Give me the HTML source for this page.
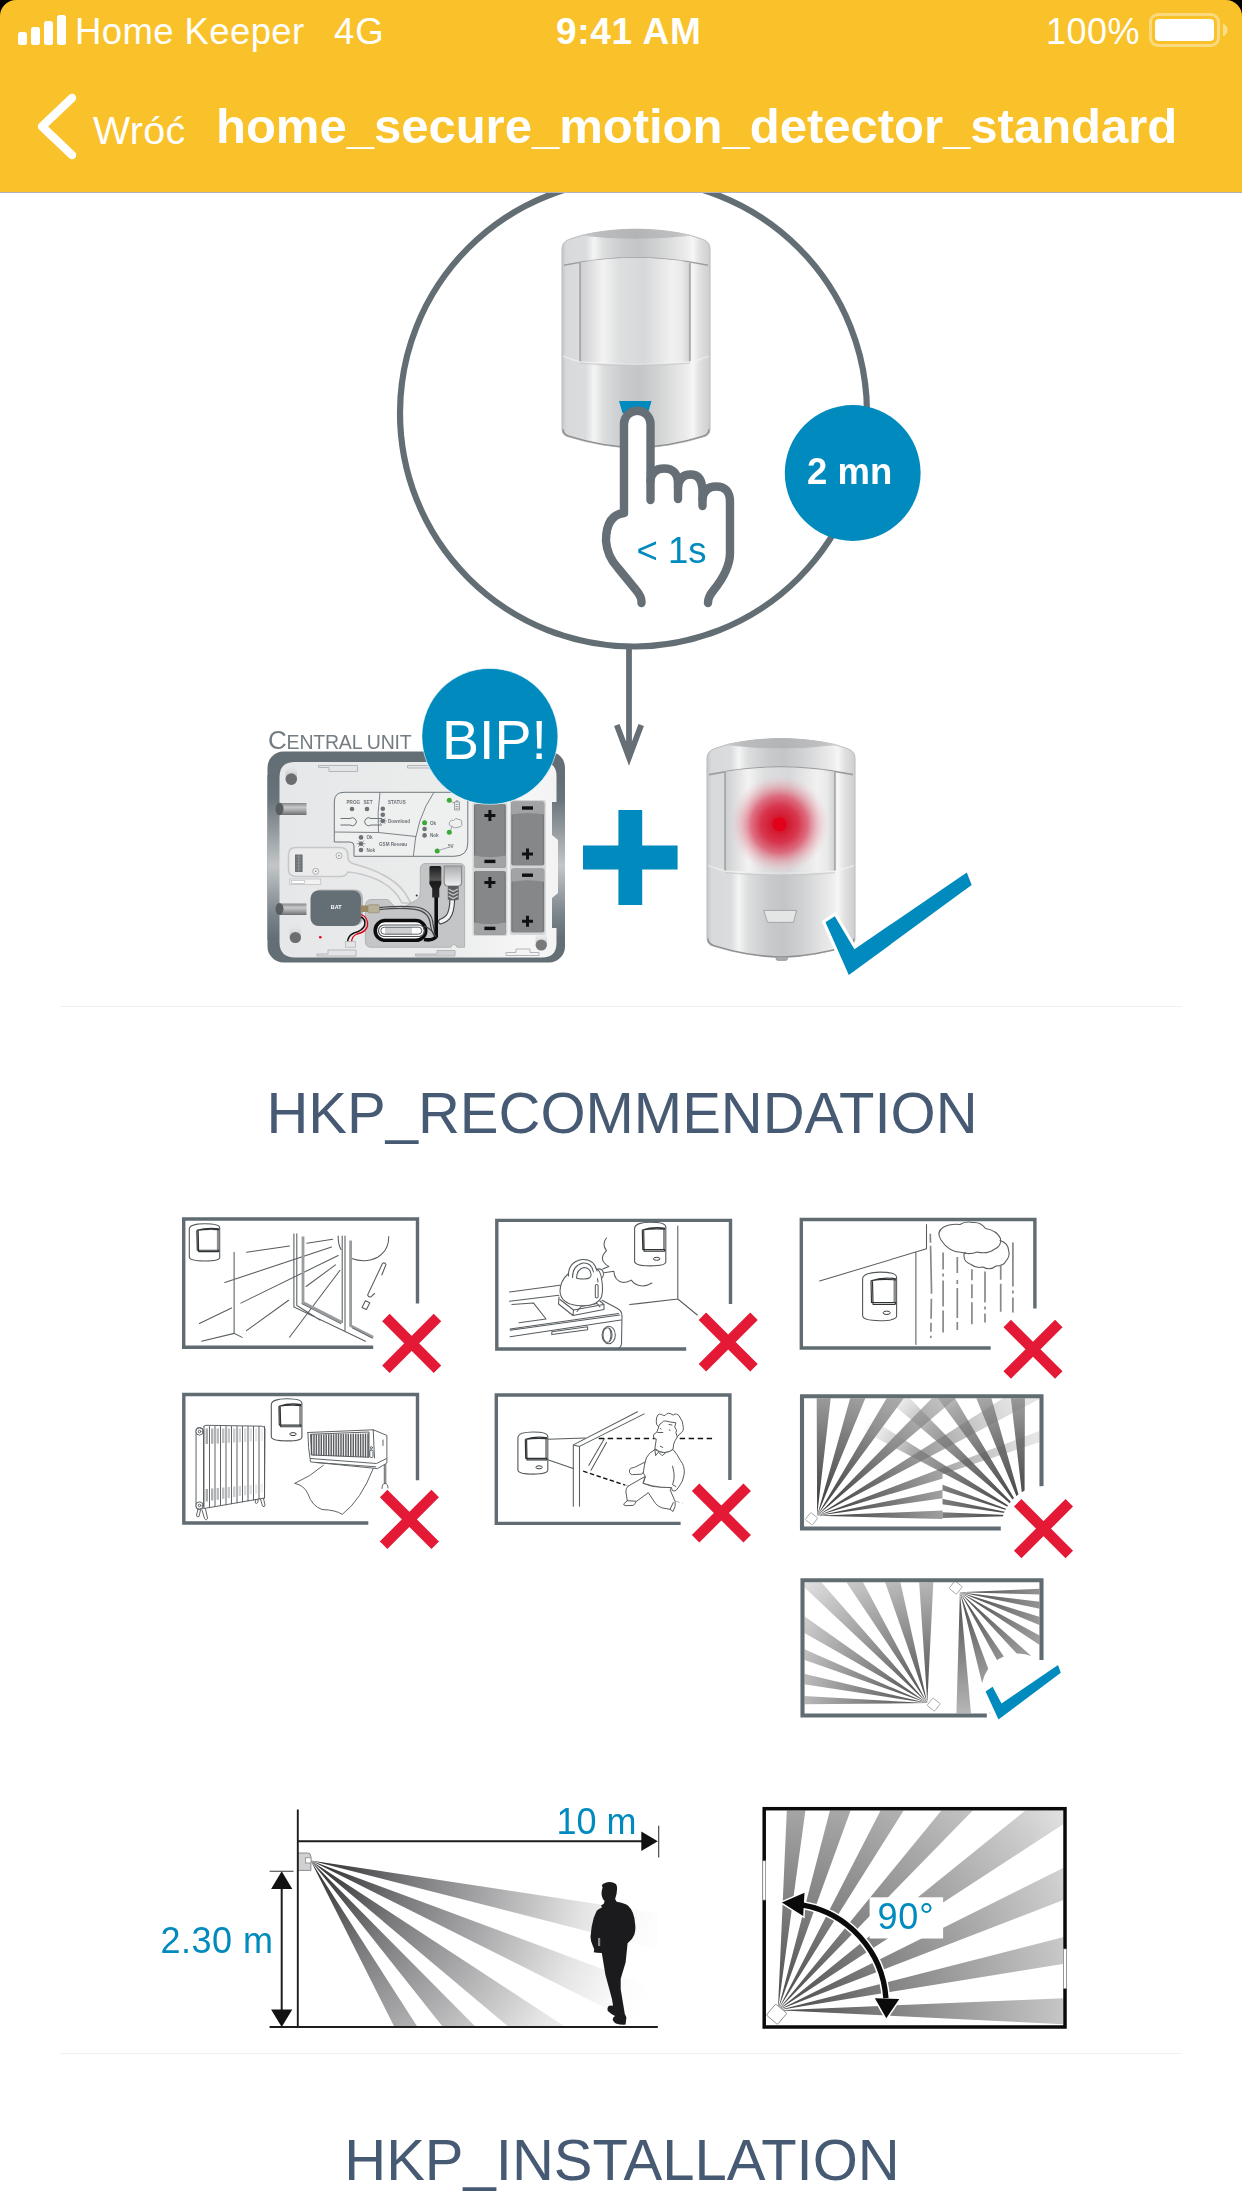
<!DOCTYPE html>
<html>
<head>
<meta charset="utf-8">
<title>home_secure_motion_detector_standard</title>
<style>
*{margin:0;padding:0;box-sizing:border-box}
html,body{width:1242px;height:2208px;overflow:hidden;background:#fff}
body{position:relative;font-family:"Liberation Sans",sans-serif;color:#fff}
.abs{position:absolute;white-space:nowrap}
#hdr{position:absolute;left:0;top:0;width:1242px;height:193px;background:#f9c22b;border-bottom:1px solid #b0b1bb}
.corner{position:absolute;top:0;width:16px;height:16px;background:#000}
.corner i{position:absolute;top:0;width:32px;height:32px;border-radius:16px;background:#f9c22b}
.bar{position:absolute;width:9px;background:#fff;border-radius:2.5px}
.st{font-size:36.500px;line-height:40px;top:11.500px;letter-spacing:0}
.h2{position:absolute;left:1px;width:1242px;text-align:center;font-size:58px;line-height:70px;color:#475a74}
.hr{position:absolute;left:60px;width:1122px;height:1px;background:#f0f0f0}
#art{position:absolute;left:0;top:0;width:1242px;height:2208px;will-change:transform}
</style>
</head>
<body>
<!-- ART -->
<svg id="art" viewBox="0 0 1242 2208">
<defs>
<linearGradient id="gBody" gradientUnits="userSpaceOnUse" x1="0" y1="0" x2="148" y2="0">
<stop offset="0" stop-color="#c6c7c9"/><stop offset=".03" stop-color="#d8d9da"/><stop offset=".16" stop-color="#dbdcdd"/>
<stop offset=".215" stop-color="#f4f4f4"/><stop offset=".28" stop-color="#dcddde"/><stop offset=".42" stop-color="#c9cacc"/><stop offset=".52" stop-color="#c4c5c7"/>
<stop offset=".64" stop-color="#d0d1d2"/><stop offset=".84" stop-color="#ececec"/><stop offset=".885" stop-color="#f6f6f6"/>
<stop offset=".93" stop-color="#e1e1e2"/><stop offset="1" stop-color="#cdcecf"/>
</linearGradient>
<linearGradient id="gWin" gradientUnits="userSpaceOnUse" x1="18" y1="0" x2="128" y2="0">
<stop offset="0" stop-color="#cdcecf"/><stop offset=".10" stop-color="#dfdfe0"/><stop offset=".21" stop-color="#f3f3f3"/>
<stop offset=".36" stop-color="#dddedf"/><stop offset=".58" stop-color="#d7d8d9"/><stop offset=".84" stop-color="#f1f1f1"/>
<stop offset=".93" stop-color="#e9e9e9"/><stop offset="1" stop-color="#cfd0d0"/>
</linearGradient>
<linearGradient id="gTop" gradientUnits="userSpaceOnUse" x1="0" y1="0" x2="148" y2="0">
<stop offset="0" stop-color="#d9dadb"/><stop offset=".25" stop-color="#bbbcbe"/><stop offset=".5" stop-color="#b3b4b6"/><stop offset=".75" stop-color="#bdbec0"/><stop offset="1" stop-color="#dcdcdd"/>
</linearGradient>
<radialGradient id="gRed" cx="0.5" cy="0.5" r="0.5">
<stop offset="0" stop-color="#e2001a"/><stop offset=".135" stop-color="#e2001a"/><stop offset=".15" stop-color="#d3182f"/><stop offset=".38" stop-color="#d72f48" stop-opacity=".96"/><stop offset=".58" stop-color="#db4c63" stop-opacity=".78"/><stop offset=".78" stop-color="#e38a98" stop-opacity=".45"/><stop offset="1" stop-color="#f0c0c8" stop-opacity="0"/>
</radialGradient>
<g id="det">
<path d="M0 24 V19.500 Q0 14 5 11.200 C20 4.500 48 0 74 0 C100 0 128 4.500 143 11.200 Q148 14 148 19.500 L148 200 Q148 206 142 207.500 Q108 218 74 219 Q40 218 6 207.500 Q0 206 0 200 Z" fill="url(#gBody)" stroke="#b9babc" stroke-width="1"/>
<path d="M17 6.300 C34 2 56 0 74 0 C92 0 114 2 131 6.300 Q74 13 17 6.300Z" fill="url(#gTop)"/>
<path d="M2 36 Q74 21 146 36" fill="none" stroke="#9c9d9f" stroke-width="1.600"/>
<path d="M18 33.200 Q74 24 128 33.200 L128 132.500 Q74 136.500 18 132.500 Z" fill="url(#gWin)"/>
<path d="M18 33.500 L18 132.500 M128 33.500 L128 132.500" stroke="#8f9092" stroke-width="1.200" fill="none"/>
<path d="M1 127 Q12 131 18 132.500 Q74 137.500 128 132.500 Q136 131 147 127" fill="none" stroke="#f6f6f6" stroke-opacity=".55" stroke-width="1.600"/>
<path d="M18 134 Q74 139 128 134" fill="none" stroke="#c6c7c9" stroke-opacity=".7" stroke-width="1.200"/>
<path d="M1 200 Q1 205 7 207 Q40 217.500 74 218.500 Q108 217.500 141 207 Q147 205 147 200" fill="none" stroke="#8e8f91" stroke-width="1.400"/>
</g>
<linearGradient id="gFrameV" x1="0" y1="0" x2="0" y2="1">
<stop offset="0" stop-color="#636e74"/><stop offset=".15" stop-color="#6a757b"/><stop offset=".55" stop-color="#c3c6c8"/><stop offset=".85" stop-color="#79838a"/><stop offset="1" stop-color="#636e74"/>
</linearGradient>
<linearGradient id="gPeg" x1="0" y1="0" x2="0" y2="1">
<stop offset="0" stop-color="#85888a"/><stop offset=".35" stop-color="#c6c8c9"/><stop offset=".6" stop-color="#a9abad"/><stop offset="1" stop-color="#6c6f72"/>
</linearGradient>
<linearGradient id="gCell" x1="0" y1="0" x2="1" y2="0">
<stop offset="0" stop-color="#6c6e71"/><stop offset=".06" stop-color="#868789"/><stop offset=".94" stop-color="#868789"/><stop offset="1" stop-color="#6c6e71"/>
</linearGradient>
<linearGradient id="gRJ" x1="0" y1="0" x2="0" y2="1">
<stop offset="0" stop-color="#a9abad"/><stop offset="1" stop-color="#f1f1f1"/>
</linearGradient>
<linearGradient id="gPlug" x1="0" y1="0" x2="0" y2="1">
<stop offset="0" stop-color="#1c1c1c"/><stop offset=".45" stop-color="#565656"/><stop offset=".5" stop-color="#1a1a1a"/><stop offset="1" stop-color="#2a2a2a"/>
</linearGradient>
<linearGradient id="gHole" x1="0" y1="0" x2="0" y2="1">
<stop offset="0" stop-color="#d8d9da" stop-opacity="0"/><stop offset="1" stop-color="#7a7c7e"/>
</linearGradient>
<linearGradient id="gPanel" gradientUnits="userSpaceOnUse" x1="279" y1="0" x2="556" y2="0">
<stop offset="0" stop-color="#e6e7e8"/><stop offset=".6" stop-color="#ebecec"/><stop offset=".9" stop-color="#f6f6f6"/><stop offset="1" stop-color="#f3f3f3"/>
</linearGradient>
<!--DEFS3-->
<radialGradient id="g6a" gradientUnits="userSpaceOnUse" cx="817.1" cy="1515.8" r="230"><stop offset="0" stop-color="#333333" stop-opacity="0.97"/><stop offset="0.12" stop-color="#454545" stop-opacity="0.95"/><stop offset="0.35" stop-color="#626262" stop-opacity="0.85"/><stop offset="0.6" stop-color="#808080" stop-opacity="0.68"/><stop offset="1" stop-color="#a8a8a8" stop-opacity="0.3"/></radialGradient>
<radialGradient id="g6b" gradientUnits="userSpaceOnUse" cx="1024.5" cy="1515.8" r="230"><stop offset="0" stop-color="#333333" stop-opacity="0.97"/><stop offset="0.12" stop-color="#454545" stop-opacity="0.95"/><stop offset="0.35" stop-color="#626262" stop-opacity="0.85"/><stop offset="0.56" stop-color="#7e7e7e" stop-opacity="0.66"/><stop offset="0.66" stop-color="#909090" stop-opacity="0.4"/><stop offset="0.8" stop-color="#a0a0a0" stop-opacity="0"/><stop offset="1" stop-color="#a8a8a8" stop-opacity="0"/></radialGradient>
<clipPath id="c6"><rect x="804" y="1398.300" width="235.500" height="128.200"/></clipPath>
<clipPath id="c6l"><rect x="804" y="1398.300" width="138.500" height="128.200"/></clipPath>
<clipPath id="c6r"><rect x="942.500" y="1398.300" width="97" height="128.200"/></clipPath>
<radialGradient id="g7a" gradientUnits="userSpaceOnUse" cx="927.3" cy="1703.1" r="185"><stop offset="0" stop-color="#4b4b4b" stop-opacity="1"/><stop offset="0.12" stop-color="#5e5e5e" stop-opacity="1"/><stop offset="0.35" stop-color="#868686" stop-opacity="1"/><stop offset="0.65" stop-color="#b6b6b6" stop-opacity="1"/><stop offset="1" stop-color="#ececec" stop-opacity="1"/></radialGradient>
<radialGradient id="g7b" gradientUnits="userSpaceOnUse" cx="959.9" cy="1592.2" r="185"><stop offset="0" stop-color="#4b4b4b" stop-opacity="1"/><stop offset="0.12" stop-color="#5e5e5e" stop-opacity="1"/><stop offset="0.35" stop-color="#868686" stop-opacity="1"/><stop offset="0.65" stop-color="#b6b6b6" stop-opacity="1"/><stop offset="1" stop-color="#ececec" stop-opacity="1"/></radialGradient>
<clipPath id="c7"><rect x="804.500" y="1582.300" width="235" height="131.200"/></clipPath>
<radialGradient id="g3a" gradientUnits="userSpaceOnUse" cx="310.6" cy="1860.4" r="365"><stop offset="0" stop-color="#303032" stop-opacity="1"/><stop offset="0.1" stop-color="#47474a" stop-opacity="1"/><stop offset="0.28" stop-color="#7b7b7e" stop-opacity="1"/><stop offset="0.5" stop-color="#a9a9ab" stop-opacity="1"/><stop offset="0.76" stop-color="#e4e4e4" stop-opacity="1"/><stop offset="0.92" stop-color="#fbfbfb" stop-opacity="1"/><stop offset="1" stop-color="#ffffff" stop-opacity="1"/></radialGradient>
<clipPath id="c3a"><rect x="299" y="1812" width="359" height="214"/></clipPath>
<radialGradient id="g3b" gradientUnits="userSpaceOnUse" cx="777.9" cy="2010.2" r="380"><stop offset="0" stop-color="#484848" stop-opacity="1"/><stop offset="0.1" stop-color="#5c5c5c" stop-opacity="1"/><stop offset="0.3" stop-color="#838383" stop-opacity="1"/><stop offset="0.55" stop-color="#a8a8a8" stop-opacity="1"/><stop offset="0.8" stop-color="#cdcdcd" stop-opacity="1"/><stop offset="1" stop-color="#f0f0f0" stop-opacity="1"/></radialGradient>
<clipPath id="c3b"><rect x="766" y="1810.500" width="297.200" height="214.700"/></clipPath>
<!--/DEFS3-->
</defs>
<!--SEC1-->
<g id="sec1">
<circle cx="633.500" cy="413" r="233.500" fill="#fff" stroke="#636e74" stroke-width="6.200"/>
<use href="#det" x="562" y="229.200"/>
<path d="M619 401 L651.500 401 L648 413 L622.500 413 Z" fill="#008abd"/>
<!-- hand -->
<path d="M650.500 500 L650.500 424 A13.250 13.250 0 0 0 624 424 L624 515 Q606 516 606 541 Q607 556 618 568 L636 590 Q642 597 641.500 603 L708 603 Q708 597 713 591 Q730 570 730 553 L730 498 Q730 486 716 486 Q703 486 703 499 L703 493 Q703 474 690 474 Q678 474 678 487 L678 483 Q678 468 664 468 Q650.500 468 650.500 483 Z" fill="#fff"/>
<g fill="none" stroke="#656f75" stroke-width="8.400" stroke-linecap="round" stroke-linejoin="round">
<path d="M650.500 500 L650.500 424 A13.250 13.250 0 0 0 624 424 L624 513 Q606 515 606 541 Q607 556 618 568 L636 590 Q642 597 641.500 603"/>
<path d="M650.500 481 Q651.500 468.500 664 468.500 Q678 468.500 678 484 L678 499"/>
<path d="M678 487 Q679.500 474.500 690.500 474.500 Q702.500 474.500 702.500 492 L702.500 506"/>
<path d="M702.500 499 Q704 486.500 716 486.500 Q730 486.500 730 502 L730 553 Q730 570 713 591 Q708 597 708 603"/>
</g>
<text x="636.500" y="562.800" font-family="Liberation Sans, sans-serif" font-size="36.500" fill="#008abd">&lt; 1s</text>
<!-- 2mn -->
<circle cx="852.700" cy="473" r="67.900" fill="#008abd"/>
<text x="849.700" y="484.200" text-anchor="middle" font-family="Liberation Sans, sans-serif" font-weight="bold" font-size="36.500" fill="#fff">2 mn</text>
<!-- arrow -->
<path d="M629 648 L629 756 M616.800 725 L629 757.500 L641.200 725" fill="none" stroke="#656f75" stroke-width="5.800" stroke-linejoin="miter"/>

<!-- central unit -->
<g id="cu">
<text id="cutxt" x="268" y="748.500" font-family="Liberation Sans, sans-serif" fill="#737d83" font-size="26" letter-spacing="-0.2">C<tspan font-size="19.500">ENTRAL UNIT</tspan></text>
<rect x="267.500" y="751.500" width="297.500" height="211" rx="16" fill="#646f75"/>
<rect x="267.500" y="775" width="12.500" height="165" fill="url(#gFrameV)"/>
<rect x="552" y="775" width="13" height="165" fill="url(#gFrameV)"/>
<path d="M295 762 L542 762 Q556.500 762 556.500 776 L556.500 802 L552 802 L552 835 L558 840 L558 893 L552 898 L552 928 L556.500 928 L556.500 943 Q556.500 957.500 542 957.500 L295 957.500 Q279.500 957.500 279.500 942 L279.500 777 Q279.500 762 295 762 Z" fill="url(#gPanel)"/>
<!-- tabs -->
<g fill="#e4e5e6" stroke="#b4b6b8" stroke-width="1">
<path d="M318.500 765.500 H357.500 V771.500 H329 V767.500 H318.500Z"/>
<path d="M407.500 765.500 H446 V768 H407.500Z"/>
<path d="M317 956 V954 H328 V950 H356 V956Z"/>
<path d="M415.500 956 V954 H437 V950.500 H455 V956Z" fill="#d0d1d2"/>
<path d="M506 955.500 V952.500 H516 V949 H530 V952.500 H539 V955.500Z" fill="#f4f4f4"/>
</g>
<!-- pegs -->
<rect x="280" y="803" width="26.500" height="12" fill="url(#gPeg)"/><ellipse cx="279.500" cy="809" rx="4" ry="6.200" fill="#5a5d60"/>
<rect x="280" y="903.500" width="26.500" height="11.500" fill="url(#gPeg)"/><ellipse cx="279.500" cy="909" rx="4" ry="6" fill="#5a5d60"/>
<!-- holes -->
<rect x="285.500" y="766" width="11.500" height="19" rx="5.700" fill="url(#gHole)"/><circle cx="291.300" cy="779" r="5.700" fill="#6b6d70"/>
<rect x="289.500" y="924" width="11.500" height="19" rx="5.700" fill="url(#gHole)" opacity=".6"/><circle cx="295.400" cy="937.500" r="5.600" fill="#6b6d70"/>
<rect x="535.500" y="931" width="11.500" height="19" rx="5.700" fill="url(#gHole)" opacity=".7"/><circle cx="541.300" cy="945" r="5.600" fill="#77797b"/>
<circle cx="320.300" cy="937.200" r="1.300" fill="#e2001a"/>
<!-- led panel -->
<path d="M344 792.300 H467.800 V843 Q467.800 856.300 454 856.300 H354 V846 Q354 842 350 842 H334.300 V802 Q334.300 792.300 344 792.300Z" fill="#eeefef" stroke="#6e787d" stroke-width="1"/>
<path d="M380 792.300 Q377 812 378.500 832.500 M334.300 832 L378.500 832.500 L416 836.500 M434 792.300 Q416 818 413.300 856.300" fill="none" stroke="#6e787d" stroke-width=".9"/>
<g fill="#6d7376">
<circle cx="352" cy="809" r="2.300"/><circle cx="367" cy="809" r="2.300"/>
<circle cx="382.800" cy="808.800" r="2.300"/><circle cx="382.800" cy="814.800" r="2.300"/><circle cx="382.800" cy="821" r="2.300"/>
<circle cx="361" cy="837.400" r="2.300"/><circle cx="361" cy="843.700" r="2.300"/><circle cx="361" cy="850" r="2.300"/>
<circle cx="424.600" cy="829" r="2.300"/><circle cx="424.600" cy="835.400" r="2.300"/>
</g>
<g stroke="#6d7376" stroke-width=".6"><path d="M378.500 821 H387 M380 818 L385.500 824 M380 824 L385.500 818 M356.500 843.700 H365.500 M358 840.500 L364 847 M358 847 L364 840.500"/></g>
<g fill="#3aaa35"><circle cx="449.300" cy="800.300" r="2.500"/><circle cx="424.600" cy="822.800" r="2.500"/><circle cx="449.300" cy="832.300" r="2.500"/><circle cx="437.200" cy="851" r="2.500"/></g>
<g fill="none" stroke="#6d7376" stroke-width="1"><path d="M340.500 818.500 H350 A4 4 0 1 1 350 825 H340.500"/><path d="M382 818.500 H371 A4 4 0 1 0 371 825 H382"/></g>
<g font-family="Liberation Sans, sans-serif" font-weight="bold" font-size="4.600" fill="#6b7377">
<text x="346.500" y="803.500">PROG</text><text x="363.500" y="803.500">SET</text><text x="388" y="803.500">STATUS</text>
<text x="388" y="823">Download</text><text x="366.500" y="839.300">Ok</text><text x="366.500" y="852">Nok</text><text x="379" y="845.700">GSM Reseau</text>
<text x="430" y="824.700">Ok</text><text x="430" y="837.300">Nok</text><text x="448" y="848">5V</text>
</g>
<g fill="none" stroke="#8b9195" stroke-width=".8"><path d="M451 801.500 L454.500 803 M454.500 802 H459.500 V810 H454.500Z M456 802 V800.800 H458 V802 M455.500 804.500 H458.500 M455.500 806.500 H458.500 M455.500 808.300 H458.500"/>
<path d="M450.500 830.500 L452 826.500 Q447.500 825 450 821.500 Q451.500 819.500 453.500 820.500 Q455.500 817 459 819.500 Q462.500 819.500 461.500 823 Q463 826.500 459 827 Q455 829 452 826.500"/><path d="M439.500 850.200 L448 847.500"/></g>
<!-- board recess -->
<path d="M296 847.500 H340 Q348 847.500 348 855.500 V858 Q348 862 354 864 Q392 874 405 893 L411 903 L402 903 Q395 888 378 880 Q362 873 348 872 Q346 876.500 340 876.500 H296 Q288.500 876.500 288.500 869 V855 Q288.500 847.500 296 847.500Z" fill="#ebebec" stroke="#c6c8c9" stroke-width="1.600"/>
<rect x="295" y="854.500" width="7.600" height="17.500" fill="#6d7376"/><path d="M296.500 857 H301 M296.500 860 H301 M296.500 863 H301 M296.500 866 H301 M296.500 869 H301 M298.800 855 V871.500" stroke="#a0a4a6" stroke-width=".6"/>
<g fill="#f4f4f4" stroke="#8b9195" stroke-width=".7"><circle cx="339" cy="855.700" r="3"/><circle cx="315.700" cy="871.300" r="3"/></g><circle cx="339" cy="855.700" r=".8" fill="#6d7376"/><circle cx="315.700" cy="871.300" r=".8" fill="#6d7376"/>
<rect x="289.700" y="879" width="31" height="5.500" fill="#f2f2f2" stroke="#c0c2c4" stroke-width=".8"/><rect x="291.500" y="880.300" width="13" height="3" fill="#fff" stroke="#b0b2b4" stroke-width=".6"/>
<!-- cavity -->
<path d="M426 863.500 H459.500 Q464.600 863.500 464.600 868.500 V947.200 H457 Q456 944.500 453.500 944.500 Q451.500 944.500 451 947.200 H371 Q365.400 947.200 365.400 941.500 V906 Q365.400 899.500 372 899.500 H388 L396 908 Q398 910 401 908.500 L414 901.500 Q420.300 899 420.300 892 V869 Q420.300 863.500 426 863.500Z" fill="#c4c5c7" stroke="#b0b2b4" stroke-width="1"/>
<circle cx="416.700" cy="895.500" r="1" fill="#333"/>
<!-- BAT -->
<rect x="312.500" y="889.500" width="50.500" height="36" rx="8" fill="#b4b7b9"/>
<rect x="310.500" y="890.500" width="50.500" height="35.500" rx="8" fill="#646f75"/>
<text x="336.200" y="909" text-anchor="middle" font-family="Liberation Sans, sans-serif" font-weight="bold" font-size="5.400" fill="#fff">BAT</text>
<rect x="360.500" y="905.500" width="8" height="6.500" fill="#9c8a64"/><rect x="368" y="904.800" width="11.500" height="8" rx="1.500" fill="#b9b09a" stroke="#8d8468" stroke-width=".6"/>
<!-- wires -->
<path d="M361 914.500 Q368.500 917 367.500 926 Q366 932 357 934 Q351.500 936 351.500 943" fill="none" stroke="#e2001a" stroke-width="1.300"/>
<path d="M361 917 Q366 919 364.500 925.500 Q363 930.500 354 933 Q347.500 935.500 347.500 943" fill="none" stroke="#111" stroke-width="1.500"/>
<rect x="345.600" y="941.500" width="10" height="5.700" fill="#e3e4e5" stroke="#b0b2b4" stroke-width=".7"/>
<!-- coil -->
<rect x="375.200" y="920.500" width="50.500" height="19.800" rx="9.900" fill="#fff" stroke="#0d0d0d" stroke-width="3.600"/>
<rect x="385" y="927" width="27" height="7.500" fill="#cfd0d1"/>
<rect x="378.500" y="925" width="46" height="11.500" rx="5.700" fill="none" stroke="#4c5256" stroke-width="1.200"/>
<rect x="380.800" y="927.200" width="41" height="7" rx="3.500" fill="none" stroke="#4c5256" stroke-width=".9"/>
<path d="M379.500 907.500 Q400 905.500 416 907 Q432 909.500 433 924 Q433.500 931 437 937" fill="none" stroke="#41474a" stroke-width="1.200"/>
<path d="M379.500 909.500 Q400 907.500 415 909.300 Q429.500 911.500 430.500 925 Q431.500 933 436 938" fill="none" stroke="#41474a" stroke-width="1.200"/>
<path d="M436.200 897 V936.500 Q433 941 424 939.500" fill="none" stroke="#0d0d0d" stroke-width="3.600"/>
<path d="M424 926 Q432 929 436 937" fill="none" stroke="#41474a" stroke-width="1.200"/>
<!-- plugs -->
<path d="M429.400 867.500 Q429.400 866 431 866 H439.700 Q441.300 866 441.300 867.500 V884 L439.300 888.500 V897.500 H432.200 V888.500 L429.400 884Z" fill="url(#gPlug)"/>
<path d="M452.300 899 Q452 912 448 917 Q445 920.500 441 921.500" fill="none" stroke="#3d4245" stroke-width="5.800" stroke-linecap="round"/>
<path d="M452.300 899 Q452 912 448 917 Q445 920.500 441 921.500" fill="none" stroke="#f4f4f4" stroke-width="3.600" stroke-linecap="round"/>
<path d="M444.200 866 H461.600 V882 Q461.600 886 458 886 H448 Q444.200 886 444.200 882Z" fill="url(#gRJ)" stroke="#8a8d90" stroke-width="1.200"/>
<path d="M447.800 886 H458.700 V899.500 Q453.200 901.500 447.800 899.500Z" fill="#5c6063"/>
<path d="M448.500 889 L453.200 891.500 L458 889 M448.500 892.500 L453.200 895 L458 892.500 M448.500 896 L453.200 898.500 L458 896" fill="none" stroke="#c9cacb" stroke-width="1.300"/>
<!-- batteries -->
<rect x="472.500" y="802.500" width="35" height="133.500" rx="2" fill="#d4d5d6"/><rect x="509.800" y="800" width="36" height="135" rx="2" fill="#d4d5d6"/>
<g id="cellA"><rect x="474" y="804" width="31.800" height="63.700" rx="2" fill="url(#gCell)"/><path d="M474 855.400 Q490 859 505.800 855.400 V865.700 Q505.800 867.700 503.800 867.700 H476 Q474 867.700 474 865.700Z" fill="#a2a3a5"/><path d="M484.400 815.500 H495.400 M489.900 810 V821" stroke="#111" stroke-width="3"/><rect x="484.400" y="859.700" width="11" height="3.400" fill="#111"/></g>
<use href="#cellA" y="67"/>
<g id="cellB"><rect x="511.300" y="801.400" width="32.900" height="64" rx="2" fill="url(#gCell)"/><path d="M511.300 803.400 Q511.300 801.400 513.300 801.400 H542.200 Q544.200 801.400 544.200 803.400 V814.500 Q527.500 811.500 511.300 814.500Z" fill="#a2a3a5"/><rect x="522" y="806.300" width="11" height="3.400" fill="#111"/><path d="M522 854 H533 M527.500 848.500 V859.500" stroke="#111" stroke-width="3"/></g>
<use href="#cellB" y="67.200"/>
</g>
<!-- BIP -->
<circle cx="489.900" cy="736.400" r="68" fill="#008abd" stroke="#fff" stroke-opacity=".6" stroke-width="1"/>
<text x="494.500" y="759" text-anchor="middle" font-family="Liberation Sans, sans-serif" font-size="55.500" fill="#fff">BIP!</text>
<!-- plus -->
<path d="M583 845.500 H677.600 V869.600 H583Z M618.400 810 H642.200 V905 H618.400Z" fill="#008abd"/>
<!-- det 2 -->
<use href="#det" x="707" y="738.600"/>
<rect x="776" y="956.500" width="11.500" height="4" rx="1.800" fill="#a9aaac" stroke="#8e8f91" stroke-width=".6"/>
<circle cx="779.500" cy="824.400" r="49" fill="url(#gRed)"/>
<path d="M763.700 910.400 H796.600 L793.500 922.400 H767.500Z" fill="#e4e5e5" stroke="#a5a6a8" stroke-width="1"/>
<path d="M825.500 922.300 L834.800 916.300 L854.400 949.300 L966.800 872.500 L971.700 884.900 L848.800 975.100Z" fill="#008abd" stroke="#fff" stroke-width="6" stroke-linejoin="miter" paint-order="stroke"/>
</g>
<!--SEC2-->
<g id="box1">
<g fill="none" stroke="#575c5f" stroke-width="1.050" stroke-linecap="round">
<path d="M234.100 1252.200 V1333.400 M201.600 1341.200 L234.100 1333.400 L242.100 1337.400 M199.400 1323.500 L231.500 1308 M246.500 1252.200 L289.500 1246 M224.800 1282.500 L331.600 1247 M240.800 1303.100 L338.200 1255.500 M246.500 1330.600 L288.600 1300.200 M306.100 1286.500 L335.500 1264.800 M289.500 1337.200 L340 1270.300 M306.800 1243.300 L332.700 1239.300"/>
<path d="M293.900 1233.800 V1306.900 L365.400 1341.200 M296.800 1233.800 V1305.500 L320 1320 M342.200 1236 V1322.400 M345 1236 V1330.300"/>
<path d="M338.200 1236 Q338 1244 341 1249.500 M388.700 1236.500 Q389 1250 378 1257 Q366 1263.500 351.500 1258.500"/>
<path d="M382.600 1263.200 Q385 1262.200 386 1264.400 L381.800 1275 M382.600 1263.200 L367.600 1295 Q368.500 1297.500 371 1296.800 L374.500 1293.500 M365.400 1300.800 L369.800 1302.800 L366.400 1309.500 L362 1307.600Z"/>
</g>
<g fill="none" stroke="#9a9c9e" stroke-width="2.800"><path d="M303 1236.500 V1302.400 L342.200 1322.400 M350.600 1240.400 V1325.700 L373.200 1337.200"/></g>
<g fill="none" stroke="#4a4f52" stroke-width=".8"><path d="M301.500 1303.500 L341 1323.800 M352 1327.800 L372.500 1338.300"/></g>
<g fill="none" stroke-linejoin="round"><path d="M189.3 1229.0 C189.3 1225.5 196.5 1223.8 204.9 1223.8 C213.4 1223.8 219.7 1225.0 219.7 1227.9 L219.7 1257.5 C219.7 1259.9 212.5 1261.0 204.9 1261.0 C196.5 1261.0 189.3 1259.8 189.3 1257.1 Z" fill="#fff" stroke="#53585b" stroke-width="1.100"/><path d="M216.9 1229.9 L219.3 1229.2 L219.3 1250.7 L216.9 1250.2Z" fill="#8a8c8e" stroke="none"/><path d="M196.8 1230.4 Q207.2 1227.3 219.1 1228.9 M196.8 1230.4 Q207.2 1228.9 219.1 1229.8 M196.8 1230.4 L197.3 1250.2 L219.1 1250.2 M198.2 1230.8 L198.6 1251.6 L218.4 1251.6 L219.1 1250.2" stroke="#2f3335" stroke-width="1.150"/></g>
<path d="M417.5 1303.5 V1219 H183.7 V1347.3 H373.2" fill="none" stroke="#606c72" stroke-width="3.4" stroke-linejoin="miter"/>
<path d="M385.9 1317.6000000000001 L437.5 1369.2 M437.5 1317.6000000000001 L385.9 1369.2" stroke="#e31936" stroke-width="10.6" fill="none"/>
</g>
<g id="box2">
<g fill="none" stroke="#575c5f" stroke-width="1.050" stroke-linecap="round" stroke-linejoin="round">
<path d="M677.800 1226 V1299 L629.700 1304.600 M677.800 1299 L697.300 1315"/>
<path d="M509.500 1292 L560 1285.200 M509.500 1301.300 L558.900 1295.300 M511.900 1304.600 L533.400 1302.900 L546 1319 L519 1322.800"/>
<path d="M510.100 1329 L618.600 1313.500 M510.100 1330.300 L619.700 1315 M510.100 1336.800 L620.900 1320.100 M602 1300.200 L617.500 1308.500 Q622 1311 622 1316 L621.500 1343 Q621.500 1347 618.500 1348"/>
<path d="M551.800 1331.700 L587.600 1326.800 V1329.700 L551.800 1334.600Z"/>
<ellipse cx="608.700" cy="1335" rx="6.600" ry="8.800"/><ellipse cx="607.500" cy="1335" rx="4.500" ry="7.300"/><path d="M609.500 1328.500 Q612.500 1335 609.500 1341.500"/>
<path d="M559 1297 L558.500 1304 L573 1315.500 L604 1309.500 L604 1304.500 L600 1301 M573 1315.500 L573.500 1310 L603.500 1304.500 M573.500 1310 L560 1299.500 M577 1311.500 L581 1306.500 L597 1303.500 L600 1306.800"/>
<path d="M568.500 1273.500 Q560 1281 560 1291 Q560.500 1303.500 577 1305.500 Q597 1307.500 601.500 1297 Q603.500 1290 601.500 1278 Q600 1270 596.500 1269 " fill="#fff"/>
<path d="M568.500 1276 Q568 1262 582 1259.500 Q594 1258.500 597 1271 M572.500 1277.500 Q572.500 1265.500 583 1263 Q591.500 1262.500 593.500 1272 M576.500 1278 Q577 1269 584 1267.500 Q590 1267.500 591 1274 Q592 1279 584 1279 Q578 1279 576.500 1278"/>
<path d="M596.500 1269.500 Q601 1267.500 603 1271.500 Q604.500 1275.500 601.500 1278.500 M597.500 1278.500 L598 1282"/>
<rect x="595.300" y="1284.500" width="2.800" height="13.500" rx="1.400"/>
<path d="M606.500 1238 Q601.500 1244 606.500 1250.600 Q599.500 1257.500 604.500 1263 Q606.500 1265.500 608.900 1266.500 L602.700 1269 M604.100 1272.800 L613.800 1271.200 Q614.300 1281 623.400 1282.500 Q628 1282.200 631.200 1280.100 Q635 1285.700 642.800 1285.900 Q648 1285.500 651.900 1283"/>
</g>
<g fill="none" stroke-linejoin="round"><path d="M634.6 1228.4 C634.6 1224.3 641.9 1222.3 650.6 1222.3 C659.4 1222.3 665.8 1223.7 665.8 1227.1 L665.8 1261.8 C665.8 1264.6 658.5 1265.9 650.6 1265.9 C641.9 1265.9 634.6 1264.5 634.6 1261.3 Z" fill="#fff" stroke="#53585b" stroke-width="1.100"/><path d="M663.0 1229.5 L665.4 1228.6 L665.4 1250.1 L663.0 1249.6Z" fill="#8a8c8e" stroke="none"/><path d="M642.3 1230.0 Q653.0 1226.4 665.2 1228.2 M642.3 1230.0 Q653.0 1228.2 665.2 1229.3 M642.3 1230.0 L642.8 1249.6 L665.2 1249.6 M643.7 1230.6 L644.1 1251.2 L664.4 1251.2 L665.2 1249.6" stroke="#2f3335" stroke-width="1.150"/><ellipse cx="656.7" cy="1258.8" rx="3.3" ry="1.5" stroke="#3a3e40" stroke-width="1"/></g>
<path d="M730.5 1304 V1220.4 H496.8 V1349 H686.2" fill="none" stroke="#606c72" stroke-width="3.4" stroke-linejoin="miter"/>
<path d="M702.4000000000001 1316.2 L754.0 1367.8 M754.0 1316.2 L702.4000000000001 1367.8" stroke="#e31936" stroke-width="10.6" fill="none"/>
</g>
<g id="box3">
<g fill="none" stroke="#575c5f" stroke-width="1.050" stroke-linecap="round" stroke-linejoin="round">
<path d="M819.600 1281 L926.500 1248.800 M926.500 1224.500 V1248.800 M915.900 1252.600 V1344.500"/>
<path d="M941 1240 Q936 1232 943 1227.500 Q950 1223.500 960 1224.500 Q965 1221 973 1222.500 Q981 1222 985.500 1228.500 Q997 1230.500 1000.500 1238.500 Q1002 1246 994 1249.500 Q987 1254.500 977 1252 Q970 1255 962 1252.500 Q949 1252.500 941 1240Z" fill="#fff"/>
<path d="M1000 1240.500 Q1008 1243 1008.500 1250 Q1010.500 1256 1006 1261 Q1003.500 1266 996 1266 Q990 1271 983 1267 Q976 1268.500 971 1264.500 Q964 1262 964 1256 Q963.500 1253.500 965.500 1252.500"/>
</g>
<g fill="none" stroke="#85898b" stroke-width="1.700" stroke-dasharray="19 4 3.500 4">
<path d="M930.300 1233.800 L931.500 1290 L930.800 1338" stroke-dasharray="9 3 48 5 20 4 9 4"/>
<path d="M943.100 1252.600 V1334.500" stroke-dasharray="17 4 3 4 26 4 22 20"/>
<path d="M957.300 1257 V1330" stroke-dasharray="16 7 4 4 30 4 10 20"/>
<path d="M971.900 1269.200 V1326.800" stroke-dasharray="11 4 14 4 22 20"/>
<path d="M985 1271.400 V1322.400" stroke-dasharray="31 4 3 4 10 20"/>
<path d="M1000.700 1264.800 V1312.800" stroke-dasharray="15 4 28 20"/>
<path d="M1012.900 1242.600 V1312.400" stroke-dasharray="44 4 3 4 16 20"/>
</g>
<g fill="none" stroke-linejoin="round"><path d="M862.6 1278.9 C862.6 1274.3 870.6 1272.1 880.0 1272.1 C889.6 1272.1 896.6 1273.7 896.6 1277.5 L896.6 1316.1 C896.6 1319.3 888.6 1320.7 880.0 1320.7 C870.6 1320.7 862.6 1319.1 862.6 1315.6 Z" fill="#fff" stroke="#53585b" stroke-width="1.100"/><path d="M893.5 1280.1 L896.2 1279.1 L896.2 1303.1 L893.5 1302.5Z" fill="#8a8c8e" stroke="none"/><path d="M871.0 1280.7 Q882.6 1276.7 895.9 1278.7 M871.0 1280.7 Q882.6 1278.7 895.9 1279.9 M871.0 1280.7 L871.5 1302.5 L895.9 1302.5 M872.5 1281.3 L873.0 1304.3 L895.1 1304.3 L895.9 1302.5" stroke="#2f3335" stroke-width="1.150"/><ellipse cx="886.7" cy="1312.8" rx="3.6" ry="1.7" stroke="#3a3e40" stroke-width="1"/></g>
<path d="M1034.9 1308.6 V1219.5 H801.3 V1348 H990.7" fill="none" stroke="#606c72" stroke-width="3.4" stroke-linejoin="miter"/>
<path d="M1007.2 1323.4 L1058.8 1375.0 M1058.8 1323.4 L1007.2 1375.0" stroke="#e31936" stroke-width="10.6" fill="none"/>
</g>
<g id="box4">
<g fill="none" stroke="#575c5f" stroke-width=".950" stroke-linecap="round" stroke-linejoin="round">
<path d="M203.500 1426.500 Q204.500 1425 207 1425.300 L262 1426.200 Q265 1426.500 265 1429 L264.500 1498 L204 1508.500"/>
<path d="M204.0 1426.500 V1508.5 M209.5 1426.500 V1507.6 M215.0 1426.500 V1506.6 M220.5 1426.500 V1505.7 M226.0 1426.500 V1504.8 M231.5 1426.500 V1503.8 M237.0 1426.500 V1502.9 M242.5 1426.500 V1501.9 M248.0 1426.500 V1501.0 M253.5 1426.500 V1500.1 M259.0 1426.500 V1499.1 M264.5 1426.500 V1498.2 "/>
<path d="M196 1431 Q195.500 1427.500 199.500 1427.500 Q203.500 1427.500 203.500 1431 V1506 Q203.500 1509.500 199.500 1509.500 Q195.700 1509.500 196 1506Z" fill="#fff"/>
<circle cx="199.500" cy="1431.500" r="3.600" fill="#fff"/><circle cx="199.500" cy="1431.500" r="1.300"/><circle cx="199.500" cy="1505.500" r="3.600" fill="#fff"/><circle cx="199.500" cy="1505.500" r="1.300"/>
<path d="M198 1509.500 L196.500 1515 Q197 1518 199 1516.500 L200.500 1510 M202 1510 L204.500 1518.500 Q206.500 1521.500 207.500 1518 L205.500 1509 M256 1499.500 L255 1502.500 Q256.500 1505 258 1502 L258 1499.500 M260.500 1499 L262.500 1506 Q264.500 1508 265 1505 L263.500 1498.500"/>
<path d="M307.900 1432.500 L373.200 1429.800 L386.900 1435.400 V1463 L377.600 1468.600 L310.500 1461.900 Q308 1448 307.900 1432.500Z" fill="#fff"/>
<path d="M373.200 1429.800 L374.500 1458 M310.500 1458.500 L376.500 1463.500 L386.500 1458.500 M316 1462.500 L375.800 1466.800 M383 1445.500 V1440 M384.300 1465.300 V1483.500 M385.800 1464.500 V1483.500 M382 1488.500 Q382 1483.500 385 1483.500 Q388 1483.500 388 1488"/>
<rect x="369.800" y="1450" width="3.200" height="7.500" rx="1.200"/><circle cx="371.400" cy="1447.700" r="1.100"/>
<path d="M323.400 1465.300 Q310 1477 294.600 1483.400 Q304 1485 308 1494 Q312 1506 322 1509.500 Q336 1510 342.200 1514.400 Q361 1500 373.200 1468.600"/>
</g>
<g fill="none" stroke="#8d9092" stroke-width="2.400"><path d="M206.8 1428.500 V1444.0 M206.8 1489.0 V1501.5" stroke-opacity="0.75"/><path d="M212.2 1428.500 V1443.7 M212.2 1488.5 V1500.6" stroke-opacity="0.69"/><path d="M217.8 1428.500 V1443.4 M217.8 1488.0 V1499.7" stroke-opacity="0.63"/><path d="M223.2 1428.500 V1443.1 M223.2 1487.5 V1498.8" stroke-opacity="0.57"/><path d="M228.8 1428.500 V1442.8 M228.8 1487.0 V1497.9" stroke-opacity="0.51"/><path d="M234.2 1428.500 V1442.5 M234.2 1486.5 V1497.0" stroke-opacity="0.45"/><path d="M239.8 1428.500 V1442.2 M239.8 1486.0 V1496.1" stroke-opacity="0.39"/><path d="M245.2 1428.500 V1441.9 M245.2 1485.5 V1495.2" stroke-opacity="0.33"/><path d="M250.8 1428.500 V1441.6 M250.8 1485.0 V1494.3" stroke-opacity="0.27"/><path d="M256.2 1428.500 V1441.3 M256.2 1484.5 V1493.4" stroke-opacity="0.21"/><path d="M261.8 1428.500 V1441.0 M261.8 1484.0 V1492.5" stroke-opacity="0.15"/></g>
<path d="M311.5 1434.6 V1455.3 M314.0 1434.6 V1455.4 M316.4 1434.5 V1455.5 M318.9 1434.5 V1455.5 M321.3 1434.4 V1455.6 M323.8 1434.4 V1455.7 M326.2 1434.3 V1455.8 M328.7 1434.3 V1455.9 M331.2 1434.2 V1455.9 M333.6 1434.2 V1456.0 M336.1 1434.1 V1456.1 M338.5 1434.1 V1456.2 M341.0 1434.1 V1456.3 M343.4 1434.0 V1456.3 M345.9 1434.0 V1456.4 M348.3 1433.9 V1456.5 M350.8 1433.9 V1456.6 M353.3 1433.8 V1456.7 M355.7 1433.8 V1456.7 M358.2 1433.7 V1456.8 M360.6 1433.7 V1456.9 M363.1 1433.7 V1457.0 M365.5 1433.6 V1457.1 M368.0 1433.6 V1457.1 " fill="none" stroke="#5a5e61" stroke-width="1.450"/>
<path d="M310.500 1434.300 L369 1432 V1457.300 L311.800 1455 Z" fill="none" stroke="#4a4f52" stroke-width=".9"/>
<g fill="none" stroke-linejoin="round"><path d="M271.3 1404.7 C271.3 1400.7 278.5 1398.8 287.0 1398.8 C295.6 1398.8 301.9 1400.2 301.9 1403.5 L301.9 1436.9 C301.9 1439.7 294.7 1440.9 287.0 1440.9 C278.5 1440.9 271.3 1439.5 271.3 1436.5 Z" fill="#fff" stroke="#53585b" stroke-width="1.100"/><path d="M299.1 1405.7 L301.5 1404.9 L301.5 1425.7 L299.1 1425.1Z" fill="#8a8c8e" stroke="none"/><path d="M278.9 1406.2 Q289.3 1402.8 301.3 1404.5 M278.9 1406.2 Q289.3 1404.5 301.3 1405.6 M278.9 1406.2 L279.3 1425.1 L301.3 1425.1 M280.2 1406.8 L280.7 1426.7 L300.6 1426.7 L301.3 1425.1" stroke="#2f3335" stroke-width="1.150"/><ellipse cx="293.0" cy="1434.1" rx="3.2" ry="1.5" stroke="#3a3e40" stroke-width="1"/></g>
<path d="M417.5 1480.3 V1394.5 H183.8 V1523 H368.3" fill="none" stroke="#606c72" stroke-width="3.4" stroke-linejoin="miter"/>
<path d="M383.59999999999997 1493.6000000000001 L435.2 1545.2 M435.2 1493.6000000000001 L383.59999999999997 1545.2" stroke="#e31936" stroke-width="10.6" fill="none"/>
</g>
<g id="box5">
<g fill="none" stroke="#575c5f" stroke-width="1.050" stroke-linecap="round" stroke-linejoin="round">
<path d="M547.800 1439.300 L585.400 1438 M547.800 1459.700 L573.300 1468.600"/>
<path d="M573.300 1506.200 V1444.900 L637.500 1411.700 M579.500 1506.200 V1446.400 L644.100 1413.900 M573.300 1444.900 L579.500 1446.400 M604.300 1438.700 L588.800 1465.300 M606.500 1442.400 L591 1470.300"/>
</g>
<path d="M598.700 1438.400 H712.800" stroke="#111" stroke-width="1.500" stroke-dasharray="5.400 3.600" fill="none"/>
<path d="M583.200 1471.200 L625.300 1485.200" stroke="#111" stroke-width="1.400" stroke-dasharray="4.500 2.500" fill="none"/>
<path d="M625.300 1485.200 L683 1503.500" stroke="#aaa" stroke-width=".9" stroke-dasharray="4.500 3" fill="none"/>
<g fill="#fff" stroke="#575c5f" stroke-width="1" stroke-linecap="round" stroke-linejoin="round">
<path d="M644.700 1476.700 L628 1486.200 Q625.500 1488.500 625.900 1492 L627.300 1500.700 L623.700 1503.900 Q623.500 1505.500 625.900 1505.700 L633.100 1505.400 Q635.500 1504 636 1501.700 L648.300 1492.700 L655.600 1503.600 Q658 1506.500 662.100 1507.900 L670.100 1509.300 L673 1511.500 L675.100 1506.400 L675.100 1501.400 L670.100 1489.800 L671.500 1487.600 L652.700 1486.500 L643.300 1483.300Z"/>
<path d="M670.100 1509.300 L673.300 1502.500 M627.300 1500.700 L635.500 1501.200" fill="none"/>
<path d="M644.700 1462.200 L634.600 1467.300 L630.500 1468.400 Q629 1469.500 629.500 1472.400 Q630.500 1474.800 632.400 1474.600 L641.800 1474.200 L645 1470Z"/>
<path d="M654.900 1449.500 Q648.300 1453 646.300 1458 Q644 1465 643.300 1473.100 L645.500 1476.500 L643.300 1483.300 Q652.700 1486.500 661 1487.200 L671.500 1487.600 L672.200 1490.500 Q674 1491.500 675.900 1490.500 L678.800 1486.900 Q683.100 1482 684.200 1474 Q685 1466 680.200 1460.100 Q677 1454 673 1449.500 Q664 1455.500 654.900 1449.500Z"/>
<path d="M672.600 1466.200 Q674.800 1474 674 1479 L672.600 1484.700 L675.900 1486.500 M654.900 1449.500 L655.600 1455.700 L658.500 1452.100 L662.100 1455.700 L665.700 1452.800" fill="none"/>
<path d="M658.500 1426.700 Q655.500 1424 656.300 1421.700 Q656 1417.500 657.800 1415.100 Q659.500 1413.500 661.400 1414.400 Q663.500 1416 665 1415.500 Q666.500 1413.300 668.600 1413.300 Q671 1413.500 673 1415.100 Q675 1413.500 676.600 1414.100 Q679.500 1415 680.200 1418 Q682.800 1421 682.800 1424.600 Q683.800 1428 683.100 1430.400 Q682 1433 679.500 1434 L677.300 1436.900 Q674.500 1441 673.700 1444.100 L673 1449.200 Q670 1452.100 664 1452.600 Q658.500 1452 654.900 1448.500 L656.300 1439.100 Q653 1438.500 653.400 1436 Q653.400 1433.500 656.300 1432.500 Z"/>
<path d="M658.500 1426.700 Q660 1423 661.400 1423.100 Q663.500 1420.500 665.700 1420.900 L670.100 1422 L675.900 1422.800 L674.700 1427 L676.600 1430.400 L675.900 1432.500 L677.300 1436.900 M657.800 1432.500 H662.800 M660.300 1446.300 L662.800 1447.400 M669 1424.500 L672 1425 M660.300 1428.500 L661 1429 M669.300 1430 L670.200 1430.300" fill="none"/>
</g>
<g fill="none" stroke-linejoin="round"><path d="M517.9 1437.9 C517.9 1433.9 524.9 1432.0 533.2 1432.0 C541.6 1432.0 547.8 1433.4 547.8 1436.7 L547.8 1470.1 C547.8 1472.9 540.8 1474.1 533.2 1474.1 C524.9 1474.1 517.9 1472.7 517.9 1469.7 Z" fill="#fff" stroke="#53585b" stroke-width="1.100"/><path d="M545.1 1438.9 L547.4 1438.1 L547.4 1458.9 L545.1 1458.3Z" fill="#8a8c8e" stroke="none"/><path d="M525.3 1439.4 Q535.5 1436.0 547.2 1437.7 M525.3 1439.4 Q535.5 1437.7 547.2 1438.8 M525.3 1439.4 L525.7 1458.3 L547.2 1458.3 M526.6 1440.0 L527.0 1459.9 L546.5 1459.9 L547.2 1458.3" stroke="#2f3335" stroke-width="1.150"/><ellipse cx="539.1" cy="1467.3" rx="3.2" ry="1.5" stroke="#3a3e40" stroke-width="1"/></g>
<path d="M729.9 1480.1 V1395 H496.3 V1523.4 H680.6" fill="none" stroke="#606c72" stroke-width="3.4" stroke-linejoin="miter"/>
<path d="M695.6 1487.2 L747.1999999999999 1538.8 M747.1999999999999 1487.2 L695.6 1538.8" stroke="#e31936" stroke-width="10.6" fill="none"/>
</g>
<g id="box6">
<path d="M817.1 1515.8 L1386.8 1327.4 L1377.6 1301.8Z" fill="url(#g6a)" clip-path="url(#c6r)"/>
<path d="M817.1 1515.8 L1416.9 1531.0 L1416.6 1490.2ZM817.1 1515.8 L1411.4 1433.3 L1404.6 1394.1ZM817.1 1515.8 L1392.4 1345.4 L1377.6 1301.8Z" fill="url(#g6a)" clip-path="url(#c6l)"/>
<path d="M817.1 1515.8 L1348.3 1236.9 L1324.3 1195.2ZM817.1 1515.8 L1274.7 1127.7 L1236.1 1086.4ZM817.1 1515.8 L1173.2 1032.9 L1122.5 999.4ZM817.1 1515.8 L1044.8 960.7 L979.5 938.2ZM817.1 1515.8 L886.1 919.8 L815.0 915.8Z" fill="url(#g6a)" clip-path="url(#c6)"/>
<path d="M1024.5 1515.8 L424.7 1531.0 L425.0 1490.2ZM1024.5 1515.8 L430.2 1433.3 L437.0 1394.1ZM1024.5 1515.8 L451.3 1338.4 L463.6 1302.7Z" fill="url(#g6b)" clip-path="url(#c6r)"/>
<path d="M1024.5 1515.8 L493.3 1236.9 L517.3 1195.2ZM1024.5 1515.8 L566.9 1127.7 L605.5 1086.4ZM1024.5 1515.8 L668.4 1032.9 L719.1 999.4ZM1024.5 1515.8 L796.8 960.7 L862.1 938.2ZM1024.5 1515.8 L955.5 919.8 L1026.6 915.8Z" fill="url(#g6b)" clip-path="url(#c6)"/>
<rect x="807.0" y="1514.3" width="9" height="9" rx=".8" transform="rotate(38 811.5 1518.8)" fill="#fff" stroke="#9a9c9e" stroke-width=".8"/>
<path d="M1041.5 1487.7 V1396.3 H802 V1528.5 H1000.8" fill="none" stroke="#606c72" stroke-width="4.1" stroke-linejoin="miter"/>
<circle cx="1043.500" cy="1528.600" r="42.500" fill="#fff"/>
<path d="M1017.7 1502.8 L1069.3 1554.3999999999999 M1069.3 1502.8 L1017.7 1554.3999999999999" stroke="#e31936" stroke-width="10.6" fill="none"/>
</g>
<g id="box7">
<path d="M927.3 1703.1 L327.3 1708.3 L328.3 1668.6ZM927.3 1703.1 L334.1 1612.9 L343.5 1564.6ZM927.3 1703.1 L361.2 1504.3 L377.7 1462.4ZM927.3 1703.1 L406.4 1405.4 L437.3 1356.8ZM927.3 1703.1 L490.3 1292.0 L531.7 1252.0ZM927.3 1703.1 L593.5 1204.5 L645.6 1173.3ZM927.3 1703.1 L729.5 1136.6 L796.9 1117.4ZM927.3 1703.1 L887.0 1104.5 L957.1 1103.8Z" fill="url(#g7a)" clip-path="url(#c7)"/>
<path d="M959.9 1592.2 L1559.3 1566.0 L1559.6 1610.0ZM959.9 1592.2 L1555.7 1662.7 L1547.5 1713.4ZM959.9 1592.2 L1533.1 1769.6 L1514.6 1820.8ZM959.9 1592.2 L1487.2 1878.5 L1460.2 1923.4ZM959.9 1592.2 L1407.2 1992.1 L1367.6 2032.4ZM959.9 1592.2 L1298.4 2087.6 L1247.6 2118.7ZM959.9 1592.2 L1168.1 2154.9 L1102.0 2175.1ZM959.9 1592.2 L1014.8 2189.7 L942.6 2192.0Z" fill="url(#g7b)" clip-path="url(#c7)"/>
<rect x="928.9" y="1699.8" width="9.5" height="9.5" rx=".8" transform="rotate(38 933.6 1704.6)" fill="#fff" stroke="#9a9c9e" stroke-width=".8"/>
<rect x="950.9" y="1582.8" width="9.5" height="9.5" rx=".8" transform="rotate(38 955.6 1587.6)" fill="#fff" stroke="#9a9c9e" stroke-width=".8"/>
<path d="M1041.5 1659.9 V1580.2 H802.5 V1715.5 H986.8" fill="none" stroke="#606c72" stroke-width="4.1" stroke-linejoin="miter"/>
<circle cx="1018" cy="1690" r="36.500" fill="#fff"/>
<path d="M985.600 1691.400 L992.600 1686.700 L1001.500 1703.600 L1058 1665 L1060.800 1672.700 L998.500 1719.400Z" fill="#008abd"/>
</g>
<!--/SEC2-->
<!--SEC3-->
<g id="sec3">
<path d="M310.6 1860.4 L634.7 2365.3 L580.2 2396.4ZM310.6 1860.4 L733.0 2286.5 L683.7 2330.3ZM310.6 1860.4 L812.9 2188.5 L769.9 2246.5ZM310.6 1860.4 L873.0 2069.5 L847.1 2129.1ZM310.6 1860.4 L903.8 1950.6 L891.9 2009.1Z" fill="url(#g3a)" clip-path="url(#c3a)"/>
<path d="M297.800 1853 H307.500 Q310.900 1853 310.900 1856.500 V1870.400 H297.800Z" fill="#cfd0d1" stroke="#8a8c8e" stroke-width="1"/><rect x="305.500" y="1857.800" width="5.500" height="5.200" fill="#fff" stroke="#8a8c8e" stroke-width=".8"/>
<path d="M297.800 1809.600 V2027 M269.600 2027 H657.800 M297.800 1841.300 H643" stroke="#1d1d1d" stroke-width="1.900" fill="none"/>
<path d="M658.700 1825.700 V1857.400 M269.600 1871.300 H293.500" stroke="#3a3a3a" stroke-width="1.100" fill="none"/>
<path d="M281.700 1885 V2012" stroke="#1d1d1d" stroke-width="2" fill="none"/>
<path d="M641.300 1831.500 L657.800 1841.300 L641.300 1851Z M281.700 1871.300 L292.300 1889.100 H271.100Z M281.700 2027 L292.300 2009.600 H271.100Z" fill="#111"/>
<text x="556.500" y="1833.700" font-family="Liberation Sans, sans-serif" font-size="36" fill="#008abd">10 m</text>
<text x="160.500" y="1953.200" font-family="Liberation Sans, sans-serif" font-size="36" letter-spacing=".5" fill="#008abd">2.30 m</text>
<path d="M609.500 1882.100 Q604.500 1882.300 601.800 1885.300 L602.600 1887.500 Q601 1892 601.800 1895.800 Q602.500 1899.500 604.600 1901 L603.800 1903.800 L601 1905.400 L602 1907.500 Q598.500 1908.500 596.600 1911.100 Q593 1918 591.700 1926.400 L590.500 1936.800 Q590.500 1941 592.500 1945 L594.200 1949.300 L593.800 1952.200 L597 1952.700 L601.800 1952.900 L605.400 1974.700 L611.900 1998.800 L613.100 2005.700 Q609.500 2005.200 608.200 2006.500 Q607 2008.500 607.800 2010.900 Q611 2014 615.100 2016.100 Q612.500 2017.500 612.700 2019.800 Q613.500 2022.300 615.900 2023.400 Q620.500 2025 625.600 2024.600 L626.400 2017.300 L624.800 2014.100 L620.700 1989.200 L620.700 1978.700 L625.600 1962.600 L627.600 1943.300 Q632.500 1939.500 634.400 1934.400 Q635.800 1929.500 635.200 1924.800 Q635 1918 632.800 1912.700 Q630.500 1907 626.400 1904.600 Q621.500 1902.500 616.700 1901.800 L615.100 1899 Q617 1894 617.100 1888.500 Q617.200 1885.500 615.900 1884.100 Q613 1882 609.500 1882.100Z" fill="#1b1a1c"/>
<rect x="598" y="1938" width="2.200" height="8" fill="#8a8a8a"/>
<path d="M777.9 2010.2 L1377.2 2039.5 L1377.4 1985.1ZM777.9 2010.2 L1370.1 1913.8 L1359.2 1861.5ZM777.9 2010.2 L1337.7 1794.2 L1314.9 1742.5ZM777.9 2010.2 L1280.5 1682.5 L1244.8 1633.4ZM777.9 2010.2 L1196.9 1580.8 L1157.9 1545.9ZM777.9 2010.2 L1097.6 1502.5 L1052.2 1476.6ZM777.9 2010.2 L983.1 1446.4 L929.1 1429.6ZM777.9 2010.2 L859.8 1415.8 L804.6 1410.8Z" fill="url(#g3b)" clip-path="url(#c3b)"/>
<rect x="764.200" y="1808.700" width="300.800" height="218.300" fill="none" stroke="#0a0a0a" stroke-width="3.500"/>
<rect x="762.800" y="1860.900" width="2.800" height="39.100" fill="#fff" stroke="#9a9c9e" stroke-width=".7"/><rect x="1063.600" y="1949" width="2.800" height="39.400" fill="#fff" stroke="#9a9c9e" stroke-width=".7"/>
<rect x="769.300" y="2006.900" width="14.600" height="14.600" rx="1.200" transform="rotate(40 776.600 2014.200)" fill="#fff" stroke="#8a8c8e" stroke-width=".9"/>
<path d="M802.0 1904.9 A101.8 101.8 0 0 1 885.9 1998.1" fill="none" stroke="#fff" stroke-width="8.500"/>
<path d="M781.900 1902.600 L804.500 1892.800 L803.200 1915.900ZM886.300 2018.200 L874.900 1998.300 L899.300 1999Z" fill="#0a0a0a" stroke="#fff" stroke-width="3" paint-order="stroke"/>
<path d="M802.0 1904.9 A101.8 101.8 0 0 1 885.9 1998.1" fill="none" stroke="#0a0a0a" stroke-width="5.400"/>
<rect x="869.600" y="1897.300" width="73.500" height="41.200" fill="#fff"/>
<text x="877.500" y="1929.400" font-family="Liberation Sans, sans-serif" font-size="36" letter-spacing=".8" fill="#008abd">90°</text>
</g>
<!--/SEC3-->
</svg>

<div class="hr" style="top:1006px"></div>
<div class="h2" style="top:1078px">HKP_RECOMMENDATION</div>
<div class="hr" style="top:2053px"></div>
<div class="h2" style="top:2125px">HKP_INSTALLATION</div>

<!-- HEADER -->
<div id="hdr">
  <div class="corner" style="left:0"><i style="left:0"></i></div>
  <div class="corner" style="right:0"><i style="right:0"></i></div>
  <div class="bar" style="left:18px;top:32px;height:13px"></div>
  <div class="bar" style="left:31px;top:27px;height:18px"></div>
  <div class="bar" style="left:44px;top:21px;height:24px"></div>
  <div class="bar" style="left:57px;top:15px;height:30px"></div>
  <div class="abs st" id="carrier" style="left:75px;letter-spacing:.4px">Home Keeper</div>
  <div class="abs st" id="net" style="left:334px;letter-spacing:1px">4G</div>
  <div class="abs st" id="time" style="left:556px;font-weight:bold;letter-spacing:.7px;font-size:37px">9:41 AM</div>
  <div class="abs st" id="pct" style="left:1046px;font-size:36px;letter-spacing:.5px">100%</div>
  <svg class="abs" style="left:1140px;top:0px" width="100" height="60" viewBox="1140 0 100 60">
    <rect x="1150.500" y="14.500" width="68" height="31" rx="7.500" fill="none" stroke="#fff" stroke-opacity=".4" stroke-width="3"/>
    <rect x="1155" y="19" width="59" height="22" rx="4" fill="#fff"/>
    <path d="M1223 23.500 q4.500 2 4.500 6.500 q0 4.500 -4.500 6.500z" fill="#fff" fill-opacity=".45"/>
  </svg>
  <svg class="abs" style="left:30px;top:86px" width="56" height="80" viewBox="0 0 56 80">
    <path d="M42 12 L12 40.500 L42 69" fill="none" stroke="#fff" stroke-width="8.500" stroke-linecap="round" stroke-linejoin="round"/>
  </svg>
  <div class="abs" id="back" style="left:93px;top:106px;font-size:39.500px;line-height:48px;letter-spacing:.3px">Wróć</div>
  <div class="abs" id="title" style="left:216px;top:96px;font-size:49px;line-height:60px;font-weight:bold">home_secure_motion_detector_standard</div>
</div>
</body>
</html>
